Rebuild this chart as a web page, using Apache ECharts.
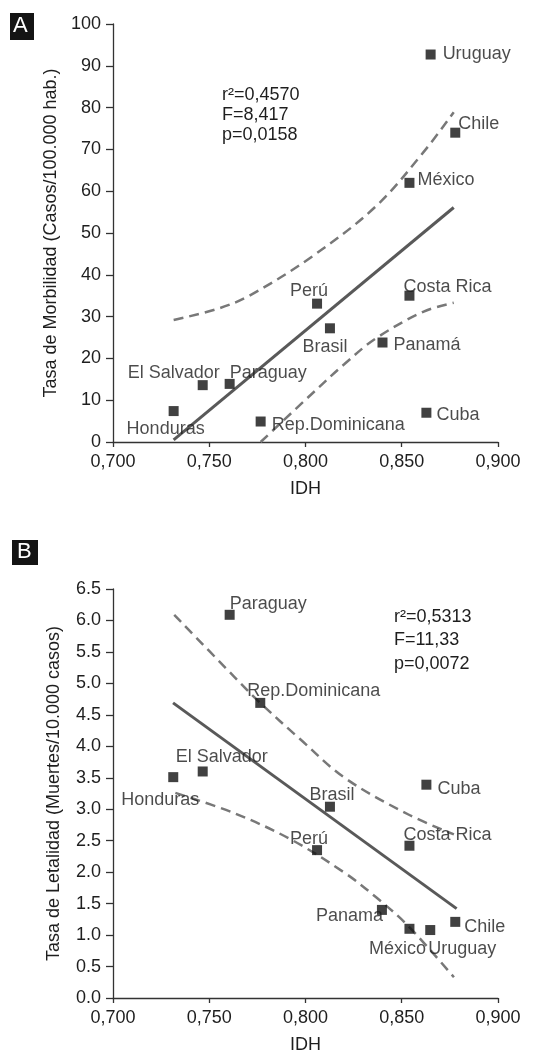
<!DOCTYPE html>
<html>
<head>
<meta charset="utf-8">
<script src="https://cdn.jsdelivr.net/npm/echarts@6/dist/echarts.min.js"></script>
<style>
html,body{margin:0;padding:0;background:#fff;}
#c{width:547px;height:1055px;}
</style>
</head>
<body>
<div id="c"></div>
<script>
// ---- data ----
const countries = ['Honduras','El Salvador','Paraguay','Rep.Dominicana','Perú','Brasil','Panamá','México','Costa Rica','Cuba','Uruguay','Chile'];
const countriesB = ['Honduras','El Salvador','Paraguay','Rep.Dominicana','Perú','Brasil','Panama','México','Costa Rica','Cuba','Uruguay','Chile'];
const idhA = [0.7315,0.7466,0.7606,0.7767,0.806,0.8127,0.840,0.854,0.854,0.8628,0.865,0.8778];
const idhB = [0.7313,0.7466,0.7606,0.7765,0.806,0.8127,0.8397,0.854,0.854,0.8628,0.8648,0.8778];
const morbilidad = [7.4,13.6,13.9,4.9,33.1,27.2,23.8,62.0,35.0,7.0,92.7,74.0];
const letalidad = [3.51,3.60,6.09,4.69,2.35,3.04,1.40,1.10,2.42,3.39,1.08,1.21];
const fitA = [[0.7315,0.5],[0.877,56.1]];
const upperA = [[0.7315,29.2],[0.7539,31.8],[0.7704,34.9],[0.8035,44.4],[0.8366,56.4],[0.8614,69.4],[0.877,78.9]];
const lowerA = [[0.7767,0],[0.8035,11.6],[0.8201,18.6],[0.8366,24.8],[0.8614,31.2],[0.877,33.3]];
const fitB = [[0.7312,4.69],[0.8785,1.42]];
const upperB = [[0.7318,6.09],[0.7625,5.12],[0.7765,4.69],[0.797,4.12],[0.8203,3.50],[0.8532,2.92],[0.8771,2.60]];
const lowerB = [[0.7324,3.26],[0.7628,2.94],[0.7924,2.52],[0.8203,1.99],[0.8367,1.60],[0.8532,1.15],[0.8771,0.33]];
const xTicks = {min:0.7,max:0.9,interval:0.05};
const statsA = ['r²=0,4570','F=8,417','p=0,0158'];
const statsB = ['r²=0,5313','F=11,33','p=0,0072'];
const titleYA = 'Tasa de Morbilidad (Casos/100.000 hab.)';
const titleYB = 'Tasa de Letalidad (Muertes/10.000 casos)';
const titleX = 'IDH';

// ---- label placement (style) : [align, dx, dy] ----
const placeA = [['center',-8,18],['center',-29,-12],['left',0,-11],['left',11,4],['center',-8,-13],['center',-5,19],['left',11,3],['left',8,-3],['left',-6,-9],['left',10,2],['left',12,0],['left',3,-9]];
const placeB = [['center',-13,23],['center',19,-14],['left',0,-11],['left',-13,-12],['center',-8,-11],['center',2,-12],['right',1,6],['center',-12,20],['left',-6,-11],['left',11,4],['left',-2,19],['left',9,5]];

const FONT = '"Liberation Sans", Arial, sans-serif';
const TXT = '#1e1e1e';

function pts(xs, ys, names, place){
  return xs.map((x,i)=>({
    value:[x,ys[i]], name:names[i],
    label:{show:true, position:'inside', formatter:names[i], align:place[i][0], verticalAlign:'middle',
      offset:[place[i][1],place[i][2]], color:TXT, fontSize:18, fontFamily:FONT}
  }));
}
function xAxis(gi){
  return {type:'value', gridIndex:gi, min:xTicks.min, max:xTicks.max, interval:xTicks.interval,
    name:titleX, nameLocation:'middle', nameGap:38, nameTextStyle:{color:TXT,fontSize:18,fontFamily:FONT},
    axisLine:{lineStyle:{color:'#333',width:1.3}}, axisTick:{length:5,lineStyle:{color:'#333',width:1.3}},
    splitLine:{show:false},
    axisLabel:{color:TXT,fontSize:18,fontFamily:FONT,margin:11,formatter:v=>v.toFixed(3).replace('.',',')}};
}
const dashed = {color:'#787878', width:2.5, type:[10,6]};
const solid = {color:'#595959', width:3};

const chart = echarts.init(document.getElementById('c'), null, {renderer:'canvas'});
chart.setOption({
  backgroundColor:'#fff',
  animation:false,
  grid:[{left:113, top:24, width:385, height:418},{left:113, top:589, width:385, height:410}],
  xAxis:[xAxis(0), xAxis(1)],
  yAxis:[
    {type:'value', gridIndex:0, min:0, max:100, interval:10,
      name:titleYA, nameLocation:'middle', nameGap:46, nameTextStyle:{color:TXT,fontSize:18,fontFamily:FONT},
      axisLine:{show:true,lineStyle:{color:'#333',width:1.3}}, axisTick:{show:true,length:7,lineStyle:{color:'#333',width:1.3}},
      splitLine:{show:false}, axisLabel:{color:TXT,fontSize:18,fontFamily:FONT,margin:12}},
    {type:'value', gridIndex:1, min:0, max:6.5, interval:0.5,
      name:titleYB, nameLocation:'middle', nameGap:50, nameTextStyle:{color:TXT,fontSize:18,fontFamily:FONT},
      axisLine:{show:true,lineStyle:{color:'#333',width:1.3}}, axisTick:{show:true,length:7,lineStyle:{color:'#333',width:1.3}},
      splitLine:{show:false}, axisLabel:{color:TXT,fontSize:18,fontFamily:FONT,margin:12,formatter:v=>v.toFixed(1)}}
  ],
  series:[
    {type:'line', xAxisIndex:0, yAxisIndex:0, data:upperA, smooth:0.35, symbol:'none', lineStyle:dashed, z:2},
    {type:'line', xAxisIndex:0, yAxisIndex:0, data:lowerA, smooth:0.35, symbol:'none', lineStyle:dashed, z:2},
    {type:'line', xAxisIndex:0, yAxisIndex:0, data:fitA, symbol:'none', lineStyle:solid, z:2},
    {type:'scatter', xAxisIndex:0, yAxisIndex:0, data:pts(idhA,morbilidad,countries,placeA), symbol:'rect', symbolSize:10, itemStyle:{color:'#111'}, z:5},
    {type:'line', xAxisIndex:1, yAxisIndex:1, data:upperB, smooth:0.35, symbol:'none', lineStyle:dashed, z:2},
    {type:'line', xAxisIndex:1, yAxisIndex:1, data:lowerB, smooth:0.35, symbol:'none', lineStyle:dashed, z:2},
    {type:'line', xAxisIndex:1, yAxisIndex:1, data:fitB, symbol:'none', lineStyle:solid, z:2},
    {type:'scatter', xAxisIndex:1, yAxisIndex:1, data:pts(idhB,letalidad,countriesB,placeB), symbol:'rect', symbolSize:10, itemStyle:{color:'#111'}, z:5}
  ],
  graphic:[
    {type:'rect', left:10, top:13, shape:{width:24,height:27}, style:{fill:'#141414'}},
    {type:'text', left:13, top:15, style:{text:'A', fill:'#fff', font:'22px '+FONT}},
    {type:'rect', left:12, top:540, shape:{width:26,height:25}, style:{fill:'#141414'}},
    {type:'text', left:17, top:541, style:{text:'B', fill:'#fff', font:'22px '+FONT}},
    {type:'text', left:222, top:85, style:{text:statsA.join('\n'), fill:TXT, font:'18px '+FONT, lineHeight:20}},
    {type:'text', left:394, top:605, style:{text:statsB.join('\n'), fill:TXT, font:'18px '+FONT, lineHeight:23.5}}
  ]
});
</script>
</body>
</html>
